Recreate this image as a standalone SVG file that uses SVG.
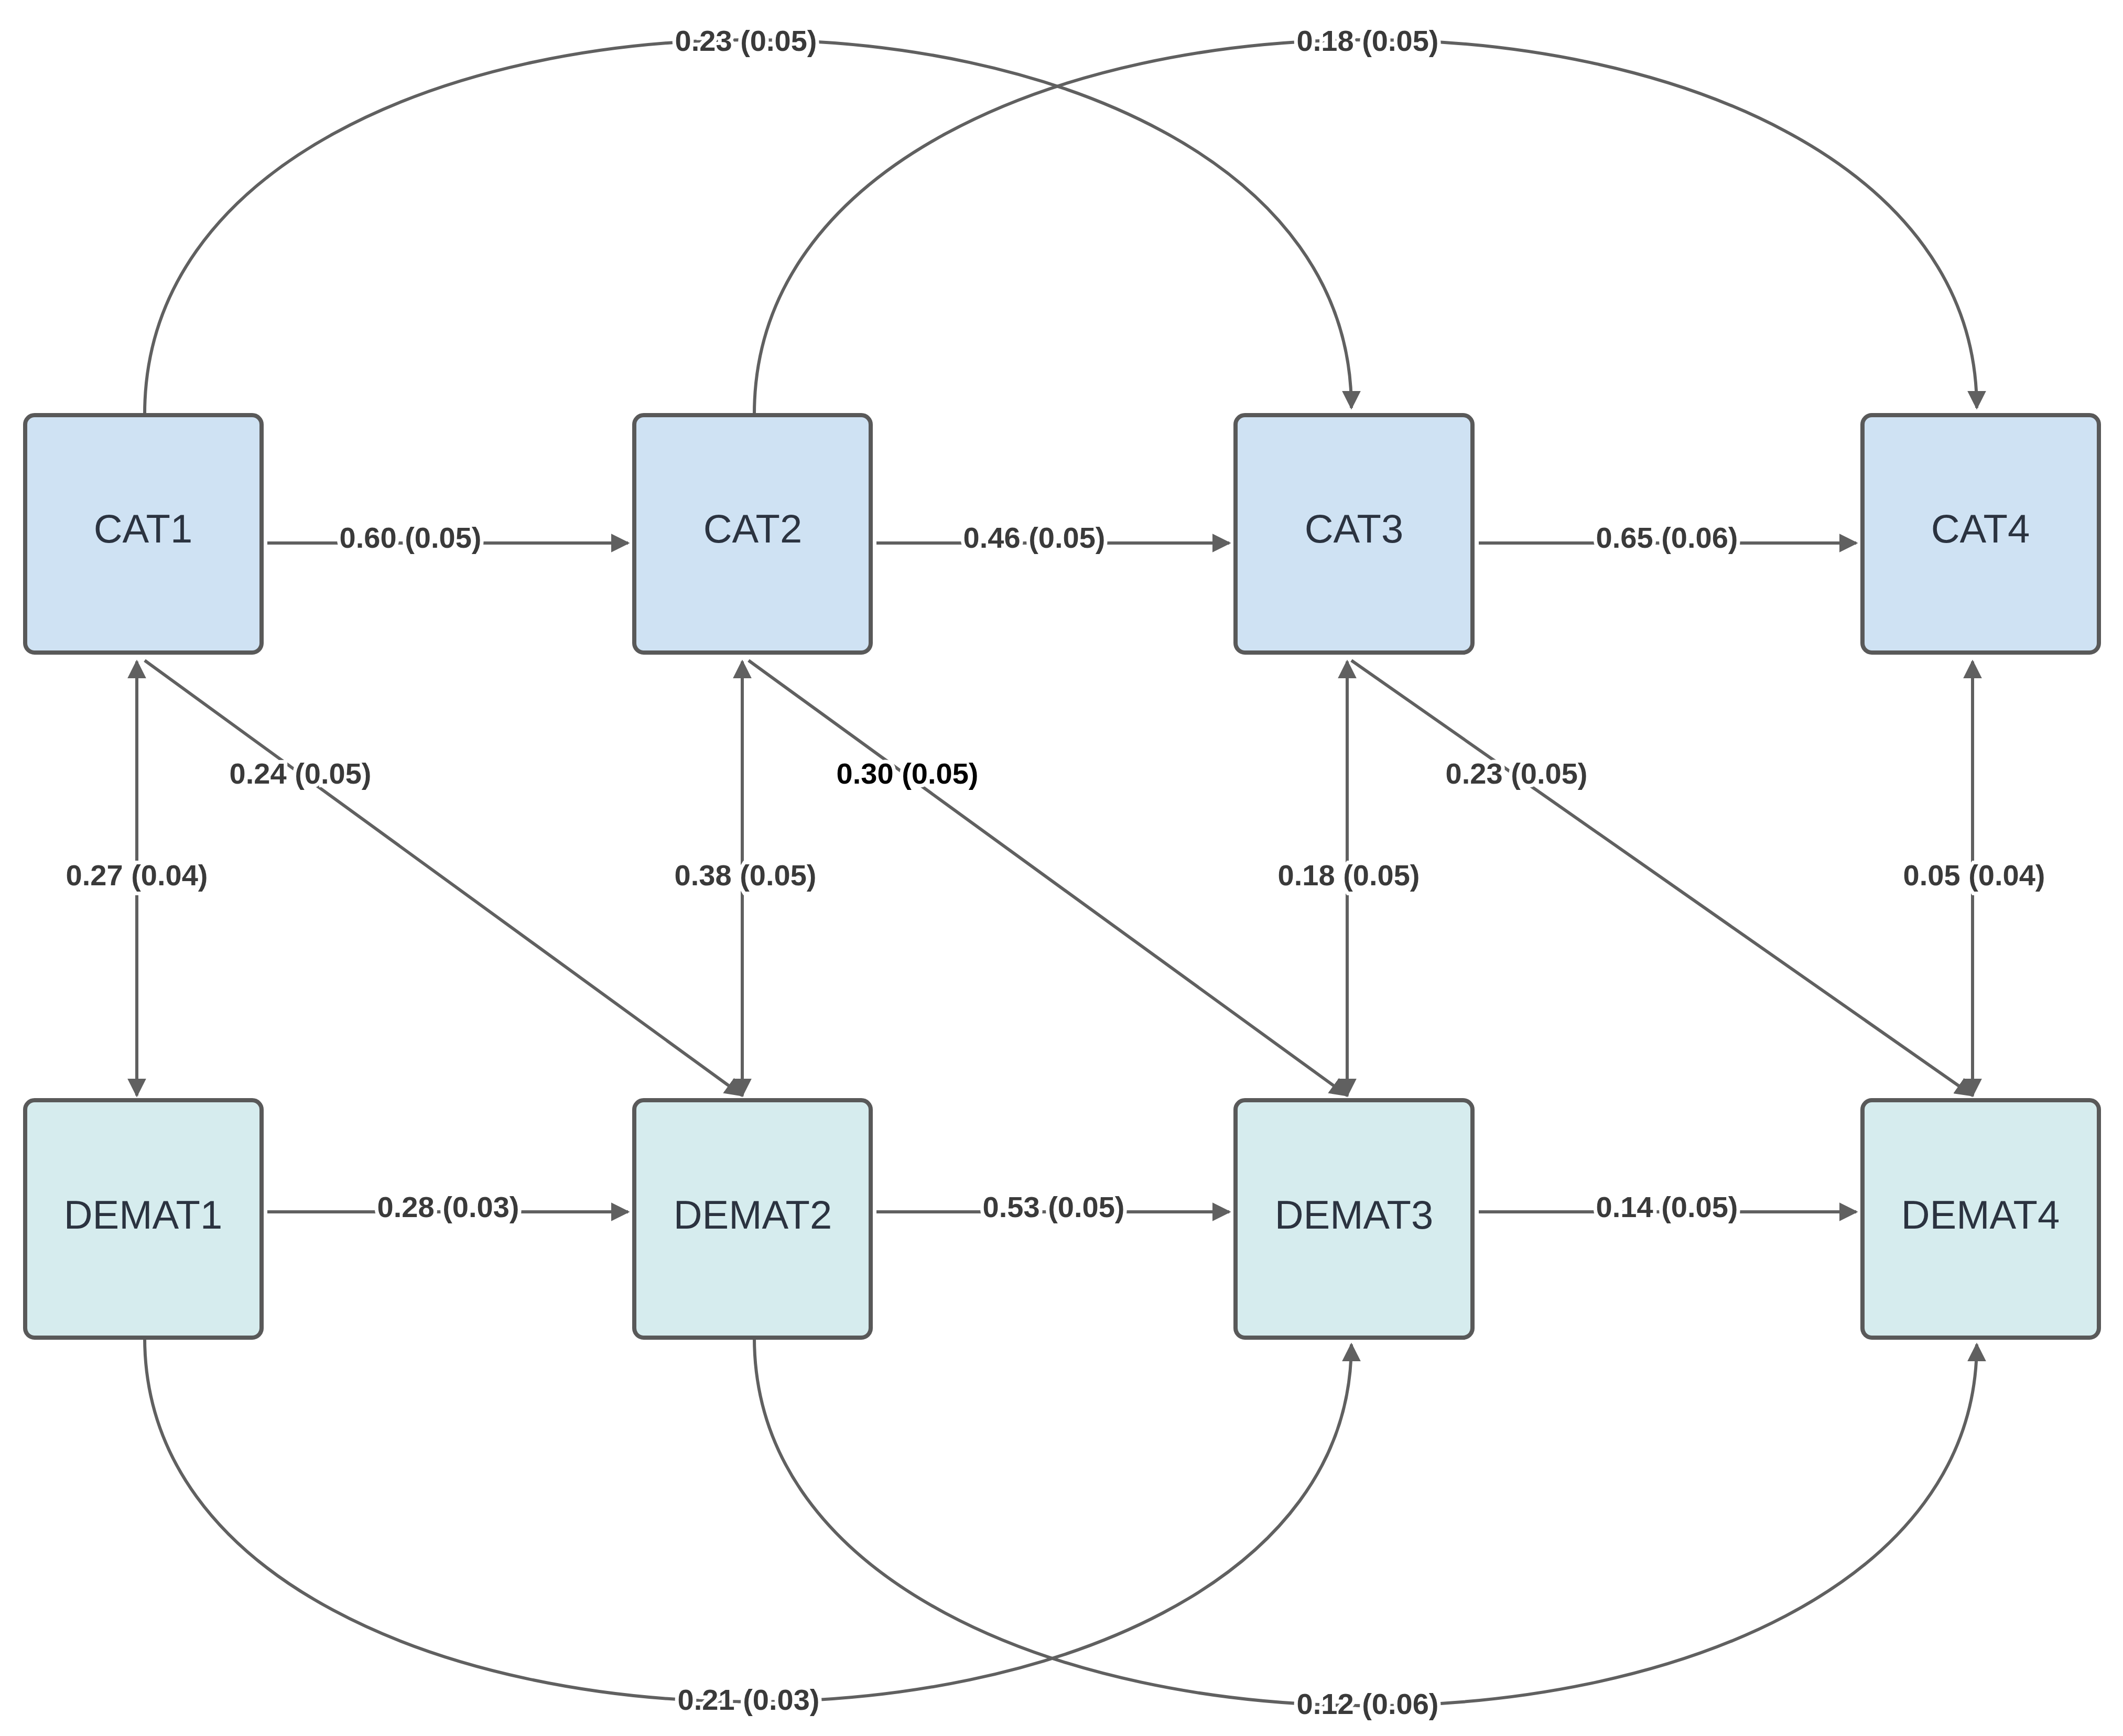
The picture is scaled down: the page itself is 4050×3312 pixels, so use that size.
<svg xmlns="http://www.w3.org/2000/svg" width="4050" height="3312" viewBox="0 0 4050 3312">
<style>
.box{stroke:#595959;stroke-width:8}
.cat{fill:#cfe2f3}.dem{fill:#d6ecee}
.nt{font-family:"Liberation Sans",Arial,sans-serif;font-size:76px;fill:#2b3340;text-anchor:middle;dominant-baseline:central}
.c{fill:none;stroke:#606060;stroke-width:6}
.lb{font-family:"Liberation Sans",Arial,sans-serif;font-weight:bold;font-size:56px;fill:#3a3a3a;text-anchor:middle;dominant-baseline:central;paint-order:stroke;stroke:#fff;stroke-width:14}
</style>
<defs>
<marker id="a" viewBox="0 0 10 10" refX="9" refY="5" markerWidth="6" markerHeight="6" markerUnits="strokeWidth" orient="auto-start-reverse"><path d="M0,0 L10,5 L0,10 z" fill="#606060"/></marker>
</defs>
<g id="connectors">
<path class="c" d="M510 1036 H1198" marker-end="url(#a)"/>
<path class="c" d="M1672 1036 H2345" marker-end="url(#a)"/>
<path class="c" d="M2821 1036 H3541" marker-end="url(#a)"/>
<path class="c" d="M510 2312 H1198" marker-end="url(#a)"/>
<path class="c" d="M1672 2312 H2345" marker-end="url(#a)"/>
<path class="c" d="M2821 2312 H3541" marker-end="url(#a)"/>
<path class="c" d="M261 1262 V2090" marker-start="url(#a)" marker-end="url(#a)"/>
<path class="c" d="M1416 1262 V2090" marker-start="url(#a)" marker-end="url(#a)"/>
<path class="c" d="M2570 1262 V2090" marker-start="url(#a)" marker-end="url(#a)"/>
<path class="c" d="M3763 1262 V2090" marker-start="url(#a)" marker-end="url(#a)"/>
<path class="c" d="M276 1260 L1416 2090" marker-end="url(#a)"/>
<path class="c" d="M1428 1260 L2570 2090" marker-end="url(#a)"/>
<path class="c" d="M2578 1260 L3763 2090" marker-end="url(#a)"/>
<path class="c" d="M276 790 C276 -160 2578 -160 2578 778" marker-end="url(#a)"/>
<path class="c" d="M1439 790 C1439 -160 3771 -160 3771 778" marker-end="url(#a)"/>
<path class="c" d="M276 2552 C276 3476 2578 3476 2578 2565" marker-end="url(#a)"/>
<path class="c" d="M1439 2552 C1439 3486 3771 3486 3771 2565" marker-end="url(#a)"/>
<text class="lb" x="783" y="1025">0.60 (0.05)</text>
<text class="lb" x="1973" y="1025">0.46 (0.05)</text>
<text class="lb" x="3180" y="1025">0.65 (0.06)</text>
<text class="lb" x="855" y="2302">0.28 (0.03)</text>
<text class="lb" x="2010" y="2302">0.53 (0.05)</text>
<text class="lb" x="3180" y="2302">0.14 (0.05)</text>
<text class="lb" x="261" y="1669">0.27 (0.04)</text>
<text class="lb" x="1422" y="1669">0.38 (0.05)</text>
<text class="lb" x="2573" y="1669">0.18 (0.05)</text>
<text class="lb" x="3766" y="1669">0.05 (0.04)</text>
<text class="lb" x="573" y="1475">0.24 (0.05)</text>
<text class="lb" x="1731" y="1475" style="fill:#000">0.30 (0.05)</text>
<text class="lb" x="2893" y="1475">0.23 (0.05)</text>
<text class="lb" x="1423" y="77">0.23 (0.05)</text>
<text class="lb" x="2609" y="77">0.18 (0.05)</text>
<text class="lb" x="1428" y="3242">0.21 (0.03)</text>
<text class="lb" x="2609" y="3250">0.12 (0.06)</text>
</g>
<g id="CAT1"><rect class="box cat" x="48" y="792" width="451" height="453" rx="18"/><text class="nt" x="273" y="1008">CAT1</text></g>
<g id="CAT2"><rect class="box cat" x="1210" y="792" width="451" height="453" rx="18"/><text class="nt" x="1436" y="1008">CAT2</text></g>
<g id="CAT3"><rect class="box cat" x="2357" y="792" width="452" height="453" rx="18"/><text class="nt" x="2583" y="1008">CAT3</text></g>
<g id="CAT4"><rect class="box cat" x="3553" y="792" width="451" height="453" rx="18"/><text class="nt" x="3778" y="1008">CAT4</text></g>
<g id="DEMAT1"><rect class="box dem" x="48" y="2099" width="451" height="453" rx="18"/><text class="nt" x="273" y="2317">DEMAT1</text></g>
<g id="DEMAT2"><rect class="box dem" x="1210" y="2099" width="451" height="453" rx="18"/><text class="nt" x="1436" y="2317">DEMAT2</text></g>
<g id="DEMAT3"><rect class="box dem" x="2357" y="2099" width="452" height="453" rx="18"/><text class="nt" x="2583" y="2317">DEMAT3</text></g>
<g id="DEMAT4"><rect class="box dem" x="3553" y="2099" width="451" height="453" rx="18"/><text class="nt" x="3778" y="2317">DEMAT4</text></g>
</svg>
